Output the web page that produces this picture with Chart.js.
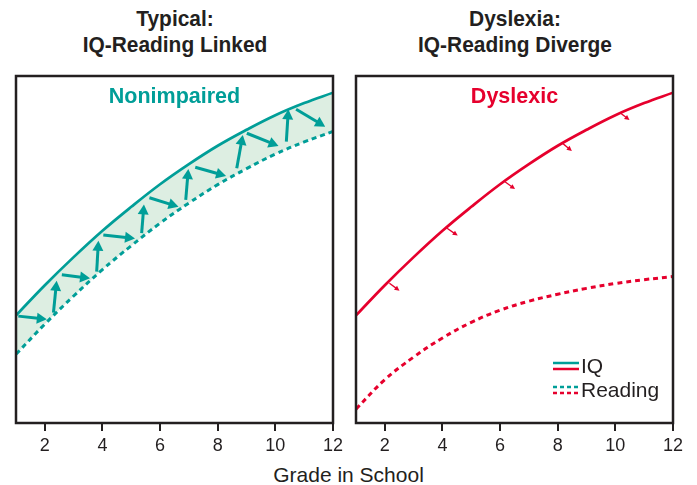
<!DOCTYPE html>
<html>
<head>
<meta charset="utf-8">
<script src="https://cdn.jsdelivr.net/npm/chart.js@4.4.1/dist/chart.umd.min.js"></script>
<style>
  body { margin: 0; background: #fff; width: 697px; height: 485px; position: relative; overflow: hidden;
         font-family: "Liberation Sans", Arial, sans-serif; color: #231f20; }
  .title { position: absolute; top: 6px; width: 340px; text-align: center; font-weight: bold;
           font-size: 22px; line-height: 26px; transform: scaleX(0.95); }
  .box { position: absolute; top: 60px; width: 348px; height: 400px; }
  #xlabel { position: absolute; left: 0; width: 697px; top: 463px; text-align: center; font-size: 21px; }
</style>
</head>
<body>
<div class="title" style="left:5px">Typical:<br>IQ-Reading Linked</div>
<div class="title" style="left:345px">Dyslexia:<br>IQ-Reading Diverge</div>
<div class="box" style="left:0"><canvas id="leftChart"></canvas></div>
<div class="box" style="left:340px"><canvas id="rightChart"></canvas></div>
<div id="xlabel">Grade in School</div>
<script>
// Data (y is an unlabeled 0-100 scale)
const grades = [1, 2, 3, 4, 5, 6, 7, 8, 9, 10, 11, 12];
const gradeTicks = [2, 4, 6, 8, 10, 12];
const iqScores = [31, 39.7, 47.8, 55.4, 62.3, 68.8, 74.6, 79.9, 84.5, 88.7, 92.2, 95.2];
const typicalReading = [19.8, 28.5, 36.6, 44.2, 51.1, 57.6, 63.4, 68.7, 73.3, 77.5, 81.0, 84.0];
const dyslexicReading = [4, 12.5, 19, 24.5, 29, 32.5, 35.1, 37.1, 38.8, 40.2, 41.3, 42.2];

// arrows [x1, y1, x2, y2] in data units
const typicalArrows = [
    [1.08, 30.8, 2.07, 29.9], [2.30, 31.8, 2.41, 41.0],
    [2.59, 42.7, 3.57, 41.7], [3.80, 43.6, 3.86, 52.5],
    [4.03, 54.2, 5.13, 53.2], [5.36, 54.7, 5.44, 63.0],
    [5.63, 64.9, 6.64, 62.3], [6.89, 64.3, 6.98, 73.2],
    [7.22, 73.7, 8.29, 71.2], [8.66, 73.4, 8.87, 83.0],
    [9.01, 83.5, 10.11, 79.8], [10.38, 81.1, 10.45, 90.4],
    [10.72, 90.4, 11.73, 85.4]
];
const dyslexicArrows = [
    [2.16, 40.3, 2.51, 38.1], [4.16, 56.1, 4.53, 54.0],
    [6.17, 69.5, 6.52, 67.4], [8.14, 80.8, 8.49, 78.4],
    [10.15, 89.5, 10.49, 87.3]
];
const legendLabels = ['IQ', 'Reading'];

const teal = '#009e98';
const red = '#e6002d';
const ink = '#231f20';

function toPoints(ys) {
    return grades.map((g, i) => ({ x: g, y: ys[i] }));
}

// frame, arrows, panel label, optional legend
const panelPlugin = {
    id: 'panel',
    afterDatasetsDraw(chart, args, opts) {
        const ctx = chart.ctx;
        const xs = chart.scales.x, ys = chart.scales.y;
        const a = chart.chartArea;
        ctx.save();
        ctx.beginPath();
        ctx.rect(a.left, a.top, a.right - a.left, a.bottom - a.top);
        ctx.clip();
        opts.arrows.forEach(ar => {
            const x1 = xs.getPixelForValue(ar[0]), y1 = ys.getPixelForValue(ar[1]);
            const x2 = xs.getPixelForValue(ar[2]), y2 = ys.getPixelForValue(ar[3]);
            const ang = Math.atan2(y2 - y1, x2 - x1);
            const hl = opts.headLen, hw = opts.headWidth;
            const bx = x2 - hl * Math.cos(ang), by = y2 - hl * Math.sin(ang);
            ctx.strokeStyle = opts.color;
            ctx.fillStyle = opts.color;
            ctx.lineWidth = opts.lineWidth;
            ctx.beginPath();
            ctx.moveTo(x1, y1);
            ctx.lineTo(bx + Math.cos(ang), by + Math.sin(ang));
            ctx.stroke();
            ctx.beginPath();
            ctx.moveTo(x2, y2);
            ctx.lineTo(bx + hw / 2 * Math.sin(ang), by - hw / 2 * Math.cos(ang));
            ctx.lineTo(bx - hw / 2 * Math.sin(ang), by + hw / 2 * Math.cos(ang));
            ctx.closePath();
            ctx.fill();
        });
        ctx.restore();

        ctx.save();
        ctx.strokeStyle = ink;
        ctx.lineWidth = 2.5;
        ctx.strokeRect(a.left, a.top, a.right - a.left, a.bottom - a.top);

        ctx.fillStyle = opts.color;
        ctx.font = 'bold 21.5px "Liberation Sans", Arial, sans-serif';
        ctx.textAlign = 'center';
        ctx.textBaseline = 'middle';
        ctx.fillText(opts.label, (a.left + a.right) / 2, a.top + 21);

        if (opts.legend) {
            const lx = a.left + 197, ly = a.top + 290;
            ctx.font = '21px "Liberation Sans", Arial, sans-serif';
            ctx.textAlign = 'left';
            legendLabels.forEach((lab, i) => {
                const yy = ly + i * 24;
                ctx.lineWidth = 2.5;
                ctx.setLineDash(i === 0 ? [] : [4, 3]);
                ctx.strokeStyle = teal;
                ctx.beginPath(); ctx.moveTo(lx, yy - 3); ctx.lineTo(lx + 26, yy - 3); ctx.stroke();
                ctx.strokeStyle = red;
                ctx.beginPath(); ctx.moveTo(lx, yy + 3); ctx.lineTo(lx + 26, yy + 3); ctx.stroke();
                ctx.setLineDash([]);
                ctx.fillStyle = ink;
                ctx.fillText(lab, lx + 28, yy + 1);
            });
        }
        ctx.restore();
    }
};

function makeChart(id, color, reading, fill, arrows, label, legend, arrowStyle) {
    const ctx = document.getElementById(id).getContext('2d');
    return new Chart(ctx, {
        type: 'line',
        data: {
            datasets: [{
                label: 'IQ',
                data: toPoints(iqScores),
                borderColor: color,
                borderWidth: 2.7,
                backgroundColor: fill || 'transparent',
                fill: fill ? '+1' : false,
                pointRadius: 0,
                tension: 0.4
            }, {
                label: 'Reading',
                data: toPoints(reading),
                borderColor: color,
                borderWidth: 3,
                borderDash: [5, 4],
                fill: false,
                pointRadius: 0,
                tension: 0.4
            }]
        },
        options: {
            responsive: false,
            animation: false,
            layout: { padding: { left: 16, right: 15, top: 16, bottom: 0 } },
            plugins: {
                legend: { display: false },
                tooltip: { enabled: false },
                filler: { drawTime: 'beforeDatasetsDraw' },
                panel: Object.assign({ arrows: arrows, label: label, legend: legend, color: color }, arrowStyle)
            },
            scales: {
                x: {
                    type: 'linear',
                    min: 1,
                    max: 12,
                    afterBuildTicks: axis => { axis.ticks = gradeTicks.map(v => ({ value: v })); },
                    afterFit: axis => { axis.height = 37; },
                    grid: { drawOnChartArea: false, drawTicks: true, tickLength: 8, color: ink, lineWidth: 2 },
                    border: { display: false },
                    ticks: {
                        color: ink,
                        padding: 4,
                        maxRotation: 0,
                        font: { family: '"Liberation Sans", Arial, sans-serif', size: 18 }
                    }
                },
                y: {
                    display: false,
                    min: 0,
                    max: 100
                }
            }
        },
        plugins: [panelPlugin]
    });
}

function sizeCanvas(id) {
    const c = document.getElementById(id);
    c.width = 348; c.height = 400;
    c.style.width = '348px'; c.style.height = '400px';
}
sizeCanvas('leftChart');
sizeCanvas('rightChart');

makeChart('leftChart', teal, typicalReading, '#ddeee2', typicalArrows, 'Nonimpaired', false,
    { lineWidth: 3, headLen: 10, headWidth: 11 });
makeChart('rightChart', red, dyslexicReading, null, dyslexicArrows, 'Dyslexic', true,
    { lineWidth: 1.3, headLen: 5, headWidth: 5 });
</script>
</body>
</html>
